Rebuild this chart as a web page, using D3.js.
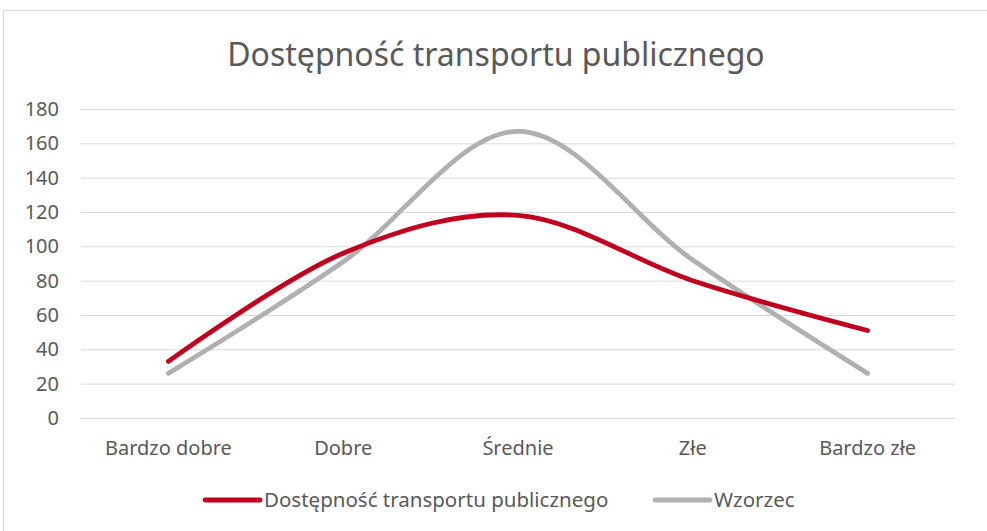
<!DOCTYPE html>
<html>
<head>
  <meta charset="utf-8">
  <title>Dostępność transportu publicznego</title>
  <script src="https://d3js.org/d3.v7.min.js"></script>
  <style>
    body { margin: 0; background: #fff; }
    svg { display: block; font-family: "Noto Sans", "Open Sans", sans-serif; }
  </style>
</head>
<body>
  <div id="chart"></div>
  <script>
    // chart data
    var categories = ["Bardzo dobre", "Dobre", "Średnie", "Złe", "Bardzo złe"];
    var seriesNames = ["Dostępność transportu publicznego", "Wzorzec"];
    var accessValues = [33, 96, 118, 80, 51];
    var patternValues = [26, 91, 167, 92, 26];
    var yTicks = [0, 20, 40, 60, 80, 100, 120, 140, 160, 180];
    var colors = ["#c0001f", "#b0b0b0"];

    var W = 987, H = 531;
    var margin = {top: 109, right: 32, bottom: 113, left: 81};
    var width = W - margin.left - margin.right,
        height = H - margin.top - margin.bottom;

    var svg = d3.select("#chart").append("svg")
      .attr("width", W)
      .attr("height", H);

    // outer border
    svg.append("rect")
      .attr("x", 3.5).attr("y", 10.5)
      .attr("width", W).attr("height", H)
      .attr("fill", "none")
      .attr("stroke", "#d9d9d9");

    svg.append("text")
      .attr("x", 496).attr("y", 66)
      .attr("text-anchor", "middle")
      .attr("font-size", 32)
      .attr("fill", "#595959")
      .text("Dostępność transportu publicznego");

    var g = svg.append("g")
      .attr("transform", "translate(" + margin.left + "," + margin.top + ")");

    var x = d3.scaleBand().domain(categories).range([0, width]);
    var y = d3.scaleLinear().domain([0, 180]).range([height, 0]);

    // gridlines
    g.append("g")
      .call(d3.axisLeft(y).tickValues(yTicks).tickSize(-width).tickFormat(""))
      .call(function(a) {
        a.select(".domain").remove();
        a.selectAll("line").attr("stroke", "#d9d9d9").attr("stroke-width", 1);
      });

    // y labels
    g.append("g")
      .call(d3.axisLeft(y).tickValues(yTicks).tickSize(0).tickPadding(22))
      .call(function(a) {
        a.select(".domain").remove();
        a.selectAll("text")
          .attr("font-size", 20)
          .attr("fill", "#595959")
          .attr("font-family", "'Noto Sans', sans-serif");
      });

    // x labels
    g.append("g")
      .attr("transform", "translate(0," + height + ")")
      .call(d3.axisBottom(x).tickSize(0).tickPadding(23))
      .call(function(a) {
        a.select(".domain").remove();
        a.selectAll("text")
          .attr("font-size", 20)
          .attr("fill", "#595959")
          .attr("font-family", "'Noto Sans', sans-serif");
      });

    var line = d3.line()
      .x(function(d, i) { return x(categories[i]) + x.bandwidth() / 2; })
      .y(function(d) { return y(d); })
      .curve(d3.curveCardinal.tension(0));

    [patternValues, accessValues].forEach(function(vals, k) {
      var c = k === 0 ? colors[1] : colors[0];
      g.append("path")
        .datum(vals)
        .attr("d", line)
        .attr("fill", "none")
        .attr("stroke", c)
        .attr("stroke-width", 4.8)
        .attr("stroke-linecap", "round");
    });

    // legend
    var legend = svg.append("g").attr("transform", "translate(0,500)");
    var legendX = [205, 655];
    seriesNames.forEach(function(name, i) {
      legend.append("line")
        .attr("x1", legendX[i]).attr("x2", legendX[i] + 55)
        .attr("y1", 0).attr("y2", 0)
        .attr("stroke", colors[i])
        .attr("stroke-width", 4.8)
        .attr("stroke-linecap", "round");
      legend.append("text")
        .attr("x", legendX[i] + 59).attr("y", 7)
        .attr("font-size", 20.5)
        .attr("fill", "#595959")
        .text(name);
    });
  </script>
</body>
</html>
